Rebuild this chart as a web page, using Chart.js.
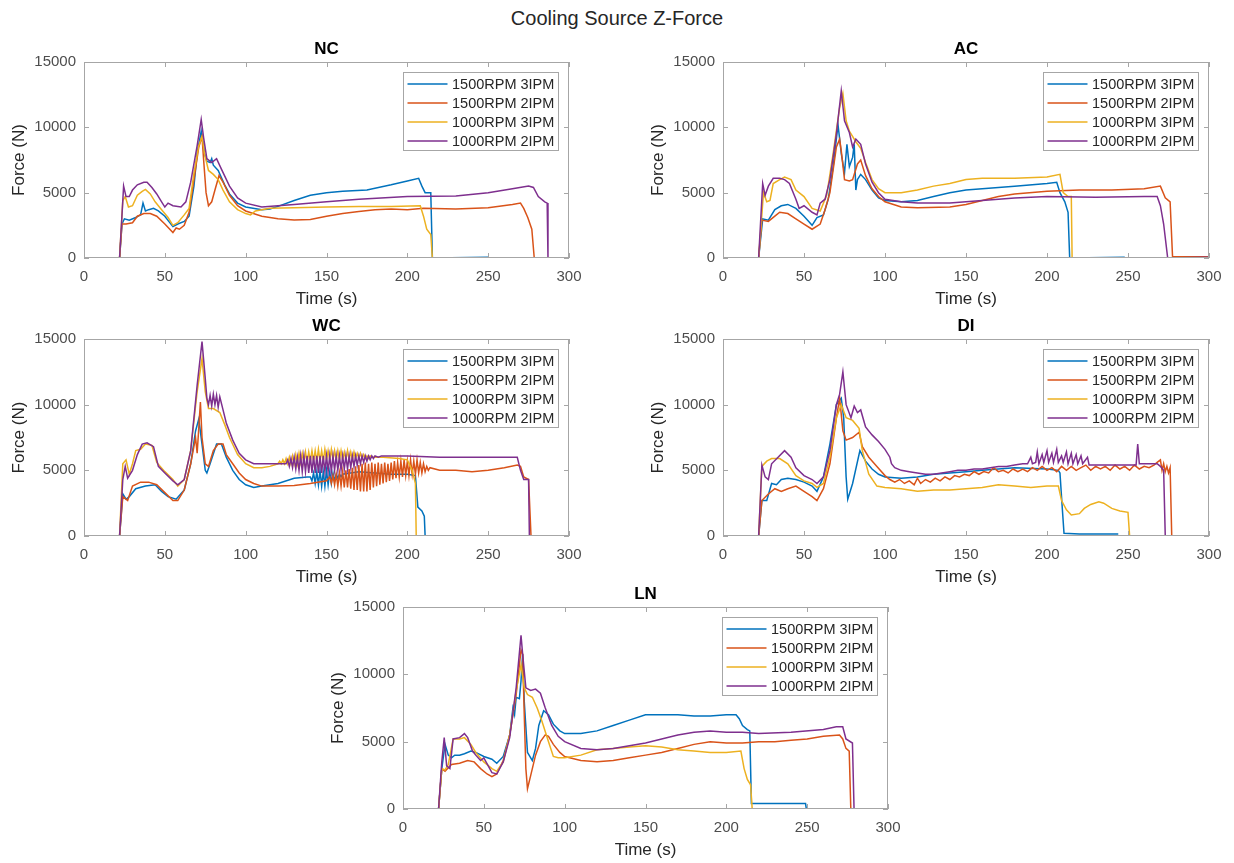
<!DOCTYPE html>
<html>
<head>
<meta charset="utf-8">
<script src="https://cdn.jsdelivr.net/npm/chart.js@4.4.1/dist/chart.umd.min.js"></script>
<style>
  body { margin: 0; width: 1234px; height: 863px; overflow: hidden; background: #fff; position: relative;
         font-family: 'Liberation Sans', Arial, sans-serif; }
  #mainTitle { position: absolute; left: 0; top: 6px; width: 1234px; text-align: center;
               font-size: 20px; line-height: 24px; color: #262626; }
  canvas { position: absolute; }
</style>
</head>
<body>
<div id="mainTitle">Cooling Source Z-Force</div>
<canvas id="nc"></canvas>
<canvas id="ac"></canvas>
<canvas id="wc"></canvas>
<canvas id="di"></canvas>
<canvas id="ln"></canvas>
<script>
// 범례 / 축 눈금
const seriesNames = ['1500RPM 3IPM', '1500RPM 2IPM', '1000RPM 3IPM', '1000RPM 2IPM'];
const seriesColors = ['#0072BD', '#D95319', '#EDB120', '#7E2F8E'];
const xTicks = [0, 50, 100, 150, 200, 250, 300];
const yTicks = [0, 5000, 10000, 15000];

// [time (s), force (N)] - NC
const ncBlue = [[22,0],[23.5,2600],[25,3000],[28,2900],[32,3100],[35,3300],[36.5,4200],[38,3600],[40,3700],[43,3800],[46,3600],[50,3200],[55,2400],[58,2600],[62,2800],[65,3200],[68,5500],[70,8000],[72.5,9700],[74.5,8000],[76,7400],[78,7300],[79,7600],[80,7100],[83,6700],[87,5600],[90,4900],[95,4200],[100,3900],[110,3700],[115,3750],[120,3950],[130,4400],[140,4800],[150,5000],[160,5100],[175,5200],[190,5600],[200,5900],[207,6100],[209,5500],[211,5000],[214.5,5000],[215.5,0],[250,50]];
const ncOrange = [[22,0],[23.5,2600],[26,2600],[30,2700],[33,3200],[37,3400],[41,3400],[45,3200],[50,2600],[55,1950],[57,2300],[59,2200],[62,2500],[65,3500],[68,6000],[71,8500],[73,9300],[74,7500],[75.5,5000],[77,4000],[79,4300],[81,5200],[83.5,6300],[86,5800],[90,4800],[95,4000],[100,3600],[110,3200],[120,3000],[130,2900],[140,2950],[150,3200],[160,3400],[170,3550],[180,3700],[190,3750],[200,3700],[210,3800],[230,3750],[250,3850],[265,4100],[270,4200],[272,3800],[274.5,3100],[277,2200],[278.5,0]];
const ncYellow = [[22,0],[24,4400],[25.5,4700],[27.5,3900],[30,4000],[33,4800],[36,5100],[38,5250],[41,4900],[44,4300],[48,3700],[52,3100],[55,2500],[58,2700],[62,3300],[65,3800],[68,6500],[71,8600],[73,9300],[74.5,8000],[77,6700],[80,6400],[83,6000],[86,5200],[90,4300],[95,3700],[100,3400],[103,3300],[106,3600],[115,3800],[130,3850],[150,3900],[170,3950],[190,3950],[208,4000],[210,3200],[212,2200],[214.5,1800],[215.5,0]];
const ncPurple = [[22,0],[24.5,5500],[26,4700],[28,4700],[30,5200],[33,5600],[37,5800],[39,5800],[42,5400],[45,4900],[48,4300],[50,3900],[52,4200],[55,4000],[60,3900],[63,4300],[66,5800],[70,8600],[72.5,10600],[74,9200],[76,7600],[79,7300],[82,7600],[85,6800],[90,5500],[95,4600],[100,4200],[110,3900],[120,4000],[130,4100],[150,4300],[170,4500],[200,4700],[230,4750],[250,5000],[265,5300],[275,5500],[278,5400],[281,4700],[285,4300],[286.5,4200],[287,0]];

// AC
const acBlue = [[22,0],[24.5,3000],[28,2900],[32,3700],[36,4000],[40,4100],[45,3800],[50,3200],[55,2500],[58,3100],[62,3300],[65,4500],[68,7000],[71,10200],[73,8000],[75,6500],[76.5,8700],[78,7000],[80,7700],[81,8700],[82,5200],[83,6000],[85,6400],[88,6000],[92,5200],[96,4600],[100,4400],[110,4300],[120,4400],[130,4700],[140,5000],[150,5200],[160,5300],[180,5500],[200,5700],[206,5800],[208,5000],[211,4300],[213,3500],[214,0],[248,50]];
const acOrange = [[22,0],[24,2900],[28,2800],[32,3200],[35,3500],[40,3400],[45,3000],[50,2600],[55,2200],[60,2600],[63,3700],[66,5000],[70,8500],[72,9100],[73,8200],[75,6000],[78,5900],[80,6000],[83,7200],[85,7500],[88,6300],[92,5300],[96,4700],[100,4300],[110,3900],[120,3850],[140,3900],[150,4100],[160,4400],[170,4700],[180,4900],[200,5100],[220,5200],[240,5200],[260,5300],[270,5500],[273,4600],[276,4300],[277.5,100],[300,100]];
const acYellow = [[22,0],[25,5000],[27,4300],[29,4400],[31,5700],[35,6000],[38,6200],[42,6000],[45,5200],[50,4700],[55,3800],[60,3600],[64,4800],[68,8000],[72,11500],[74,12600],[76,10500],[78,9700],[82,8900],[85,8400],[88,7300],[92,6000],[96,5300],[100,5000],[110,5000],[120,5200],[130,5500],[140,5700],[150,6000],[160,6100],[180,6100],[200,6200],[208,6400],[210,5000],[213,4700],[215,4700],[215.5,0],[217,0]];
const acPurple = [[22,0],[24.5,5700],[26,4800],[28,5500],[31,6100],[35,6100],[38,6000],[41,5700],[45,4500],[47,3800],[50,4000],[55,3500],[58,3300],[60,4200],[63,4500],[66,6000],[70,9500],[73,12800],[75,10500],[78,9600],[80,8500],[82,9100],[85,8700],[88,7200],[92,5800],[96,5000],[100,4500],[110,4300],[120,4200],[140,4200],[160,4400],[180,4600],[200,4700],[230,4650],[260,4700],[268,4700],[270,4000],[272,2600],[274.5,0],[300,50]];

// WC
const wcBlue = [[22,0],[24,3200],[26,2800],[28,3000],[32,3600],[38,3800],[44,3900],[48,3400],[52,3000],[57,2800],[62,3500],[66,5500],[69,8000],[71,8900],[73,7000],[75,5000],[76,4800],[78,5500],[82,7000],[85,7000],[88,6000],[92,5000],[96,4300],[100,3900],[105,3700],[110,3800],[120,4000],[130,4400],[138,4500],
  [140,4500],[141,4200],[142,4800],[143,4000],[144,4900],[145,3900],[146,5000],[147,3800],[148,4900],[149,3800],[150,5000],[151,3900],[152,4900],[153,4000],[154,4800],[155,4200],[156,4700],[157,4400],[158,4700],[159,4500],[160,4700],
  [165,4800],[170,4900],[180,4800],[190,4700],[200,4700],[205,4600],[206.5,2200],[209,1900],[210.5,1500],[211,0]];
const wcOrange = [[22,0],[24,3000],[27,2700],[30,3800],[35,4100],[40,4100],[45,3900],[50,3300],[55,2700],[58,2700],[62,3500],[66,5500],[69,7500],[70,6300],[72,10200],[73,7500],[75,5500],[77,5300],[80,6500],[83,7000],[86,7000],[88,6200],[92,5500],[96,4800],[100,4300],[105,4000],[110,3800],[120,3800],[130,3850],[140,4000],[150,4200],
  [152,4500],[153,4000],[154,4600],[155,3900],[156,4700],[157,3800],[158,4800],[159,3800],[160,4900],[161,3700],[162,5000],[163,3700],[164,5100],[165,3600],[166,5200],[167,3500],[168,5300],[169,3500],[170,5400],[171,3400],[172,5500],[173,3400],[174,5600],[175,3400],[176,5500],[177,3500],[178,5600],[179,3700],[180,5500],[181,3800],[182,5600],[183,3900],[184,5500],[185,4000],[186,5600],[187,4100],[188,5500],[189,4200],[190,5600],[191,4300],[192,5700],[193,4400],[194,5600],[195,4500],[196,5700],[197,4500],[198,5800],[199,4600],[200,5700],[201,4600],[202,5800],[203,4700],[204,5700],[205,4700],[206,5800],[207,4800],[208,5600],[209,4800],[210,5500],[211,4900],[212,5300],[213,5000],[214,5200],
  [220,5000],[230,5000],[240,4900],[250,5000],[260,5200],[268,5400],[270,5300],[272,4500],[275,4300],[276.5,0]];
const wcYellow = [[22,0],[24,5500],[26,5800],[28,4700],[30,5500],[32,6500],[35,6600],[38,7000],[42,6900],[45,5600],[50,4900],[55,4300],[58,3800],[62,4300],[66,6500],[70,11000],[73,13500],[75,11000],[77,9700],[80,9700],[84,9400],[87,8500],[90,7500],[95,6200],[100,5500],[105,5200],[110,5200],[115,5300],
  [120,5500],[121,5700],[122,5500],[123,5800],[124,5500],[125,5900],[126,5500],[127,6000],[128,5500],[129,6100],[130,5500],[131,6200],[132,5500],[133,6300],[134,5600],[135,6300],[136,5600],[137,6400],[138,5600],[139,6400],[140,5700],[141,6500],[142,5700],[143,6500],[144,5700],[145,6600],[146,5700],[147,6500],[148,5700],[149,6600],[150,5800],[151,6500],[152,5800],[153,6600],[154,5800],[155,6500],[156,5800],[157,6500],[158,5800],[159,6500],[160,5800],[161,6400],[162,5800],[163,6500],[164,5800],[165,6400],[166,5800],[167,6400],[168,5900],[169,6300],[170,5900],[171,6300],[172,5900],[173,6200],[174,5900],[175,6100],[176,5900],[177,6100],[178,6000],
  [185,6000],[195,5900],[200,5800],[203,5000],[205,4000],[205.5,0]];
const wcPurple = [[22,0],[24,4300],[25.5,5300],[27,4400],[30,5000],[33,6200],[36,7000],[39,7100],[43,6800],[46,5300],[50,4800],[55,4200],[58,3900],[62,4300],[66,6500],[70,11500],[73,14800],[75,12000],[76,10500],[77,10000],[78,10700],[79,9900],[80,10800],[81,10000],[82,10700],[83,9800],[84,10600],[86,9600],[88,8600],[92,7300],[96,6300],[100,5800],[105,5500],[110,5500],[120,5500],
  [125,5500],[126,5800],[127,5300],[128,5900],[129,5200],[130,6000],[131,5100],[132,6000],[133,5000],[134,6100],[135,4900],[136,6100],[137,4900],[138,6100],[139,4800],[140,6100],[141,4800],[142,6100],[143,4800],[144,6100],[145,4800],[146,6100],[147,4800],[148,6100],[149,4900],[150,6100],[151,4900],[152,6100],[153,4900],[154,6100],[155,5000],[156,6100],[157,5000],[158,6100],[159,5000],[160,6100],[161,5100],[162,6100],[163,5100],[164,6100],[165,5200],[166,6100],[167,5300],[168,6100],[169,5400],[170,6100],[171,5500],[172,6100],[173,5600],[174,6100],[175,5700],[176,6100],[177,5800],[178,6100],[179,5900],[180,6100],[182,6000],[184,6100],
  [190,6100],[200,6100],[220,6000],[240,6000],[260,6000],[268,6000],[270,5000],[272,4300],[275,4300],[275.5,0]];

// DI
const diBlue = [[22,0],[24,2700],[27,2700],[30,4000],[33,3900],[36,4300],[40,4400],[45,4300],[50,4100],[55,3800],[58,3400],[62,4500],[66,7000],[70,10000],[73,10500],[74.5,9000],[76,4500],[77,2800],[80,4000],[84.5,6500],[88,5700],[92,5100],[96,4700],[100,4500],[110,4400],[120,4500],[130,4700],[140,4800],[150,4900],[160,5000],[180,5200],[200,5100],[207,5000],[208,4800],[209.5,2000],[210.5,200],[220,150],[244,150]];
const diOrange = [[22,0],[24,2700],[28,3200],[32,3600],[36,3400],[40,3600],[45,3800],[50,3400],[55,3000],[58,2700],[62,3600],[66,5500],[70,9000],[72,10500],[74,8000],[76,7300],[80,7500],[84,7900],[86,6800],[90,6000],[95,5300],
  [100,4600],[103,4300],[106,4100],[109,4300],[112,4000],[115,4200],[118,3900],[120,4400],[122,4000],[125,4300],[128,4100],[131,4400],[134,4200],[137,4500],[140,4300],[143,4600],[146,4500],[149,4700],[152,4600],[155,4900],[158,4700],[161,4900],[164,4800],[167,5200],[170,4900],[173,5000],[176,4800],[179,5100],[182,4900],[185,5100],[188,4900],[191,5200],[194,5000],[197,5300],[200,5000],[203,5200],[206,4900],[209,5300],[212,5000],[215,5300],[218,5000],[221,5200],[224,5400],[227,5000],[230,5300],[233,5100],[236,5300],[239,5000],[242,5400],[245,5100],[248,5300],[251,5000],[254,5400],[257,5100],[260,5300],[263,5200],[266,5400],[268,5600],[270,5800],[271,5000],[272,5500],[273,4900],[274,5300],[275,4800],[276,5200],[277,0],[300,0]];
const diYellow = [[22,0],[24,5300],[27,5700],[30,5900],[35,5900],[40,5500],[45,4600],[50,4200],[55,4000],[58,3700],[62,4000],[66,6000],[70,9000],[73,10000],[76,9000],[80,8800],[84,8200],[86,6500],[90,4700],[95,3800],[100,3700],[110,3600],[120,3400],[130,3500],[140,3500],[150,3600],[160,3700],[170,3900],[180,3800],[190,3700],[200,3800],[207,3800],[209,2700],[212,2000],[215,1600],[220,1700],[223,2100],[227,2400],[232,2600],[235,2500],[240,2100],[245,1900],[250,1800],[251,0]];
const diPurple = [[22,0],[24,5400],[26,4500],[28,4300],[30,5500],[34,6000],[38,6500],[42,6000],[45,5200],[50,4600],[55,4300],[58,4000],[62,4500],[66,6500],[70,10000],[72,10800],[74,12500],[76,10000],[79,9000],[81,9900],[83,9400],[85,9600],[88,8300],[92,7700],[96,7200],[100,6600],[103,6000],[104,5500],[106,5200],[110,5000],[115,4900],[120,4800],[125,4700],[130,4700],[135,4800],[140,4900],[145,5000],[150,5000],[155,5100],[160,5100],[165,5200],[170,5300],[175,5300],[180,5400],[185,5500],[188,5500],[190,6000],[191,5500],[193,5600],[194,6400],[195,5500],[197,6200],[198,5600],[200,6500],[201,5600],[203,6300],[204,5600],[206,6600],[207,5600],[209,6100],[210,5600],[212,6400],[213,5500],[215,6300],[216,5500],[218,6200],[219,5500],[221,6100],[222,5500],[225,6000],[226,5400],[230,5400],[240,5400],[250,5400],[255,5400],[256,7000],[257,5500],[260,5500],[265,5500],[268,5500],[270,5300],[272,5000],[273,0],[300,0]];

// LN
const lnBlue = [[22,0],[24,3000],[26,4800],[28,4000],[30,3800],[32,4000],[35,4000],[38,4100],[42,4300],[45,4200],[50,3900],[55,3700],[58,3400],[62,3900],[66,5500],[68,7500],[69,7000],[70,8300],[72,8200],[73,9500],[74,11500],[75,8000],[77,4200],[78,4000],[80,3600],[82,4500],[84,6200],[87,7300],[90,7000],[93,6300],[97,5800],[100,5600],[110,5600],[120,5800],[130,6200],[140,6600],[150,7000],[160,7000],[170,7000],[180,6900],[190,6900],[200,7000],[206,7000],[208,6700],[210,6200],[213,5900],[214.5,5800],[215.5,400],[249,400],[249.5,0]];
const lnOrange = [[22,0],[24,3000],[26,2800],[30,3300],[35,3400],[40,3600],[44,3500],[48,3000],[52,2600],[55,2400],[58,2600],[62,3600],[66,5500],[70,8500],[73,11800],[74,11500],[75,7000],[76,3000],[77,1500],[79,2500],[82,4000],[85,5000],[88,5500],[90,5400],[93,4800],[97,4200],[100,3900],[110,3600],[120,3500],[130,3600],[140,3800],[150,4000],[160,4200],[170,4500],[180,4800],[190,5000],[200,4900],[210,4900],[220,5000],[230,5000],[240,5100],[250,5200],[260,5400],[270,5500],[272,5200],[274,4500],[276,4300],[277,0]];
const lnYellow = [[22,0],[24,3000],[26,2900],[28,3300],[31,5200],[35,5200],[38,5300],[42,4800],[45,4200],[50,3500],[55,3000],[58,2800],[62,3500],[66,5500],[70,8800],[73,10700],[75,9000],[77,8500],[80,8300],[83,7500],[86,6500],[90,5000],[93,3900],[96,3800],[100,3800],[110,4000],[120,4400],[130,4500],[140,4600],[150,4700],[160,4600],[170,4400],[180,4300],[190,4200],[200,4200],[209,4300],[211,3000],[213,2200],[215,1800],[216,0]];
const lnPurple = [[22,0],[24,3500],[25.5,5300],[27,3200],[29,3000],[31,5200],[35,5300],[38,5600],[40,5300],[43,4300],[45,4000],[48,3600],[50,3800],[55,2700],[58,2600],[62,3500],[66,5300],[70,9000],[73,12900],[74,11500],[76,9000],[79,8800],[82,8900],[85,8600],[88,7500],[92,6200],[96,5400],[100,5000],[110,4500],[120,4400],[130,4500],[140,4700],[150,4900],[160,5200],[170,5500],[180,5700],[190,5800],[200,5700],[210,5700],[220,5600],[240,5700],[260,5900],[268,6100],[272,6100],[274,5200],[278,4900],[279,0]];

const FONT = "'Liberation Sans', Arial, sans-serif";

// 축 테두리 + 안쪽 눈금 (MATLAB 스타일)
const frameTicks = {
    id: 'frameTicks',
    afterDatasetsDraw(chart) {
        const { ctx, chartArea: a, scales: { x, y } } = chart;
        ctx.save();
        ctx.strokeStyle = '#a6a6a6';
        ctx.lineWidth = 1;
        ctx.beginPath();
        x.ticks.forEach(t => {
            const px = Math.round(x.getPixelForValue(t.value)) + 0.5;
            ctx.moveTo(px, a.bottom); ctx.lineTo(px, a.bottom - 5);
            ctx.moveTo(px, a.top); ctx.lineTo(px, a.top + 5);
        });
        y.ticks.forEach(t => {
            const py = Math.round(y.getPixelForValue(t.value)) + 0.5;
            ctx.moveTo(a.left, py); ctx.lineTo(a.left + 5, py);
            ctx.moveTo(a.right, py); ctx.lineTo(a.right - 5, py);
        });
        ctx.stroke();
        ctx.strokeRect(a.left + 0.5, a.top + 0.5, a.width - 1, a.height - 1);
        ctx.restore();
    }
};

// 플롯 안쪽 오른쪽 위 범례 박스
const boxLegend = {
    id: 'boxLegend',
    afterDraw(chart) {
        const { ctx, chartArea: a } = chart;
        const w = 155, h = 78;
        const left = Math.round(a.right - 11 - w) + 0.5;
        const top = Math.round(a.top + 10) + 0.5;
        ctx.save();
        ctx.fillStyle = '#fff';
        ctx.fillRect(left, top, w, h);
        ctx.strokeStyle = '#a6a6a6';
        ctx.lineWidth = 1;
        ctx.strokeRect(left, top, w, h);
        ctx.font = '14.5px ' + FONT;
        ctx.textBaseline = 'middle';
        chart.data.datasets.forEach((ds, i) => {
            const yy = top + 11.5 + i * 19;
            ctx.strokeStyle = ds.borderColor;
            ctx.lineWidth = 1.5;
            ctx.beginPath();
            ctx.moveTo(left + 4, yy); ctx.lineTo(left + 44, yy);
            ctx.stroke();
            ctx.fillStyle = '#262626';
            ctx.fillText(ds.label, left + 48.5, yy + 0.5);
        });
        ctx.restore();
    }
};

function drawPanel(id, title, box, series) {
    const canvas = document.getElementById(id);
    const padL = 84, padR = 84, padT = 31, padB = 60;
    canvas.width = box.w + padL + padR;
    canvas.height = box.h + padT + padB;
    canvas.style.left = (box.l - padL) + 'px';
    canvas.style.top = (box.t - padT) + 'px';

    new Chart(canvas, {
        type: 'line',
        data: {
            datasets: series.map((pts, i) => ({
                label: seriesNames[i],
                data: pts.map(p => ({ x: p[0], y: p[1] })),
                borderColor: seriesColors[i],
                borderWidth: 1.5,
                pointRadius: 0,
                tension: 0,
                fill: false,
                order: 4 - i   // 보라색이 맨 위에 그려지도록
            }))
        },
        options: {
            responsive: false,
            animation: false,
            devicePixelRatio: 1,
            layout: { padding: 0 },
            plugins: {
                legend: { display: false },
                tooltip: { enabled: false },
                title: {
                    display: true, text: title, color: '#000',
                    font: { family: FONT, size: 17, weight: 'bold', lineHeight: 1 },
                    padding: { top: 10, bottom: 4 }
                }
            },
            scales: {
                x: {
                    type: 'linear', position: 'bottom', min: 0, max: 300,
                    grid: { display: false, drawTicks: false },
                    border: { display: false },
                    afterBuildTicks: s => { s.ticks = xTicks.map(v => ({ value: v })); },
                    afterFit: s => { s.height = padB; },
                    ticks: { color: '#4d4d4d', font: { family: FONT, size: 15 }, padding: 10, maxRotation: 0, autoSkip: false, callback: v => String(v) },
                    title: { display: true, text: 'Time (s)', color: '#262626', font: { family: FONT, size: 17 }, padding: { top: 0, bottom: 8 } }
                },
                y: {
                    type: 'linear', position: 'left', min: 0, max: 15000,
                    grid: { display: false, drawTicks: false },
                    border: { display: false },
                    afterBuildTicks: s => { s.ticks = yTicks.map(v => ({ value: v })); },
                    afterFit: s => { s.width = padL; },
                    ticks: { color: '#4d4d4d', font: { family: FONT, size: 15 }, padding: 8, autoSkip: false, callback: v => String(v) },
                    title: { display: true, text: 'Force (N)', color: '#262626', font: { family: FONT, size: 17 }, padding: { top: 9, bottom: 0 } }
                },
                yr: {
                    type: 'linear', axis: 'y', position: 'right', display: true,
                    grid: { display: false, drawTicks: false },
                    border: { display: false },
                    ticks: { display: false },
                    afterFit: s => { s.width = padR; }
                }
            }
        },
        plugins: [frameTicks, boxLegend]
    });
}

drawPanel('nc', 'NC', { l: 84, t: 62, w: 485, h: 196 }, [ncBlue, ncOrange, ncYellow, ncPurple]);
drawPanel('ac', 'AC', { l: 723, t: 62, w: 486, h: 196 }, [acBlue, acOrange, acYellow, acPurple]);
drawPanel('wc', 'WC', { l: 84, t: 339, w: 485, h: 197 }, [wcBlue, wcOrange, wcYellow, wcPurple]);
drawPanel('di', 'DI', { l: 723, t: 339, w: 486, h: 197 }, [diBlue, diOrange, diYellow, diPurple]);
drawPanel('ln', 'LN', { l: 403, t: 607, w: 485, h: 202 }, [lnBlue, lnOrange, lnYellow, lnPurple]);
</script>
</body>
</html>
